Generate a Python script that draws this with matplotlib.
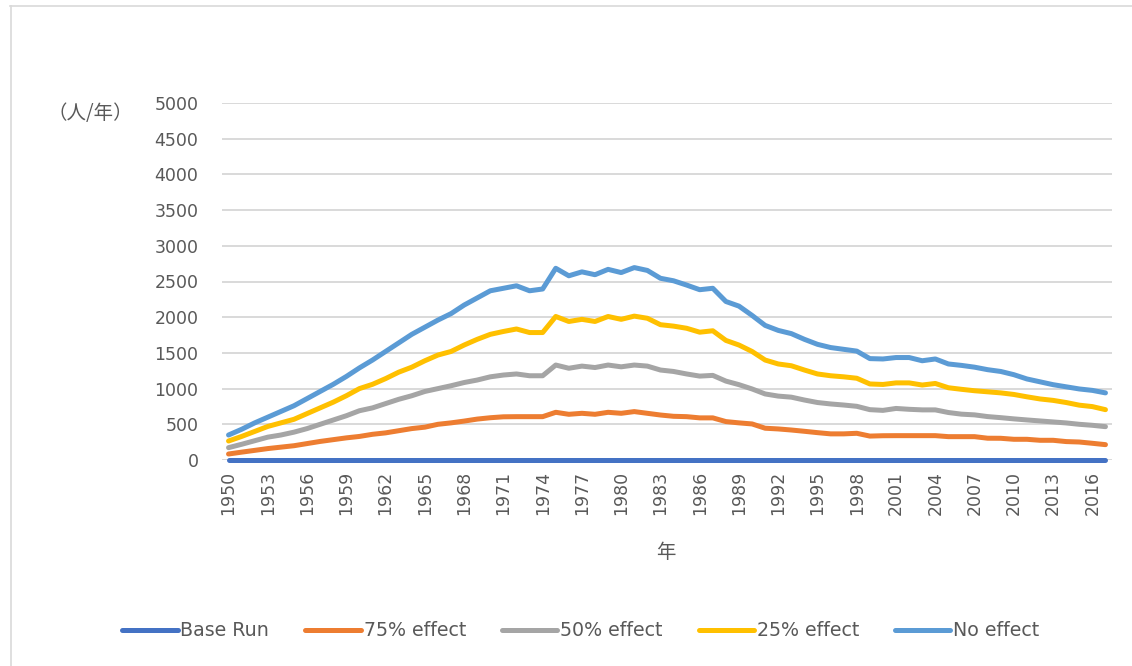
import matplotlib
matplotlib.use("Agg")
import matplotlib.pyplot as plt
from matplotlib.lines import Line2D

years = list(range(1950, 2018))

base_run = [0] * 68

no_effect = [350, 430, 520, 600, 680, 760, 860, 960, 1060, 1170, 1290, 1400, 1520, 1640, 1760, 1860, 1960, 2050,
             2170, 2270, 2370, 2405, 2440, 2370, 2395, 2685, 2580, 2635, 2595, 2670, 2625, 2695, 2655, 2545,
             2510, 2450, 2385, 2405, 2220, 2155, 2025, 1885, 1815, 1770, 1690, 1620, 1575, 1550, 1525, 1420,
             1415, 1435, 1435, 1390, 1415, 1345, 1325, 1300, 1265, 1240, 1195, 1135, 1095, 1055, 1025, 995,
             975, 940]

eff_25 = [266, 330, 400, 470, 520, 570, 650, 730, 810, 900, 1000, 1060, 1140, 1230, 1300, 1390, 1470, 1520,
          1610, 1690, 1760, 1800, 1835, 1785, 1785, 2010, 1940, 1970, 1940, 2010, 1970, 2015, 1985, 1895,
          1875, 1845, 1790, 1810, 1675, 1610, 1520, 1400, 1345, 1320, 1260, 1205, 1180, 1165, 1145, 1065,
          1058, 1080, 1080, 1050, 1072, 1012, 990, 970, 955, 940, 918, 885, 855, 835, 805, 768, 748, 705]

eff_50 = [173, 220, 270, 320, 350, 390, 440, 500, 560, 620, 690, 730, 790, 850, 900, 960, 1000, 1040,
          1085, 1120, 1165, 1190, 1205, 1180, 1180, 1330, 1285, 1315, 1295, 1330, 1305, 1330, 1315, 1260,
          1240, 1205, 1175, 1185, 1105, 1055, 995, 925, 895, 880, 840, 805, 785, 770, 752, 705,
          695, 722, 710, 702, 702, 665, 642, 632, 608, 593, 576, 561, 547, 533, 519, 500, 486, 467]

eff_75 = [84, 110, 135, 160, 180, 200, 230, 260, 285, 310, 330, 360, 380, 410, 440, 460, 500, 520,
          545, 573, 592, 605, 607, 607, 607, 668, 640, 654, 640, 668, 654, 678, 654, 630,
          612, 607, 590, 590, 538, 520, 505, 445, 435, 420, 402, 383, 366, 366, 374, 335,
          340, 341, 341, 341, 341, 327, 327, 327, 305, 304, 290, 290, 276, 276, 258, 252, 234, 215]

series_names = ["Base Run", "75% effect", "50% effect", "25% effect", "No effect"]
series_values = [base_run, eff_75, eff_50, eff_25, no_effect]
series_colors = ["#4472C4", "#ED7D31", "#A5A5A5", "#FFC000", "#5B9BD5"]

xtick_years = list(range(1950, 2017, 3))
ytick_values = list(range(0, 5001, 500))

W, H = 1132, 666
fig = plt.figure(figsize=(W / 100, H / 100), dpi=100)
fig.patch.set_facecolor("white")

ax = fig.add_axes([222 / W, 1 - 460 / H, (1112 - 222) / W, (460 - 103) / H])
ax.set_xlim(1949.5, 2017.5)
ax.set_ylim(0, 5000)

for yv in ytick_values:
    ax.axhline(yv, color="#D9D9D9", lw=1.4, zorder=0)

lw = 3.6
for name, vals, col in zip(series_names, series_values, series_colors):
    ax.plot(years, vals, color=col, lw=lw, solid_capstyle="round", solid_joinstyle="round",
            zorder=3, label=name, clip_on=False)

for s in ax.spines.values():
    s.set_visible(False)

ax.set_yticks(ytick_values)
ax.set_yticklabels([str(v) for v in ytick_values], fontsize=12.5, color="#595959",
                   family=["DejaVu Sans"])
ax.set_xticks(xtick_years)
ax.set_xticklabels([str(v) for v in xtick_years], rotation=90, fontsize=12.5, color="#595959",
                   family=["DejaVu Sans"])
ax.tick_params(axis="both", length=0)
ax.tick_params(axis="y", pad=17)
ax.tick_params(axis="x", pad=8)

cjk = ["Noto Sans CJK JP", "DejaVu Sans"]
fig.text(90 / W, 1 - 113 / H, "（人/年）", ha="center", va="center", fontsize=14,
         color="#595959", family=cjk)
fig.text(666 / W, 1 - 553 / H, "年", ha="center", va="center", fontsize=14,
         color="#595959", family=cjk)

handles = [Line2D([0], [0], color=c, lw=lw, solid_capstyle="round") for c in series_colors]
leg = fig.legend(handles, series_names, loc="center", bbox_to_anchor=(581 / W, 1 - 631 / H),
                 ncol=5, frameon=False, handlelength=2.9, handletextpad=0.15,
                 columnspacing=1.9, labelcolor="#595959", prop={"family": "DejaVu Sans", "size": 13.7})

# chart area border (left and top edges visible)
fig.add_artist(Line2D([10.5 / W, 10.5 / W], [0, 1 - 5.5 / H], transform=fig.transFigure,
                      color="#D9D9D9", lw=1.2))
fig.add_artist(Line2D([10 / W, 1], [1 - 5.5 / H, 1 - 5.5 / H], transform=fig.transFigure,
                      color="#D9D9D9", lw=1.2))

fig.savefig("out.png", dpi=100, facecolor="white")
